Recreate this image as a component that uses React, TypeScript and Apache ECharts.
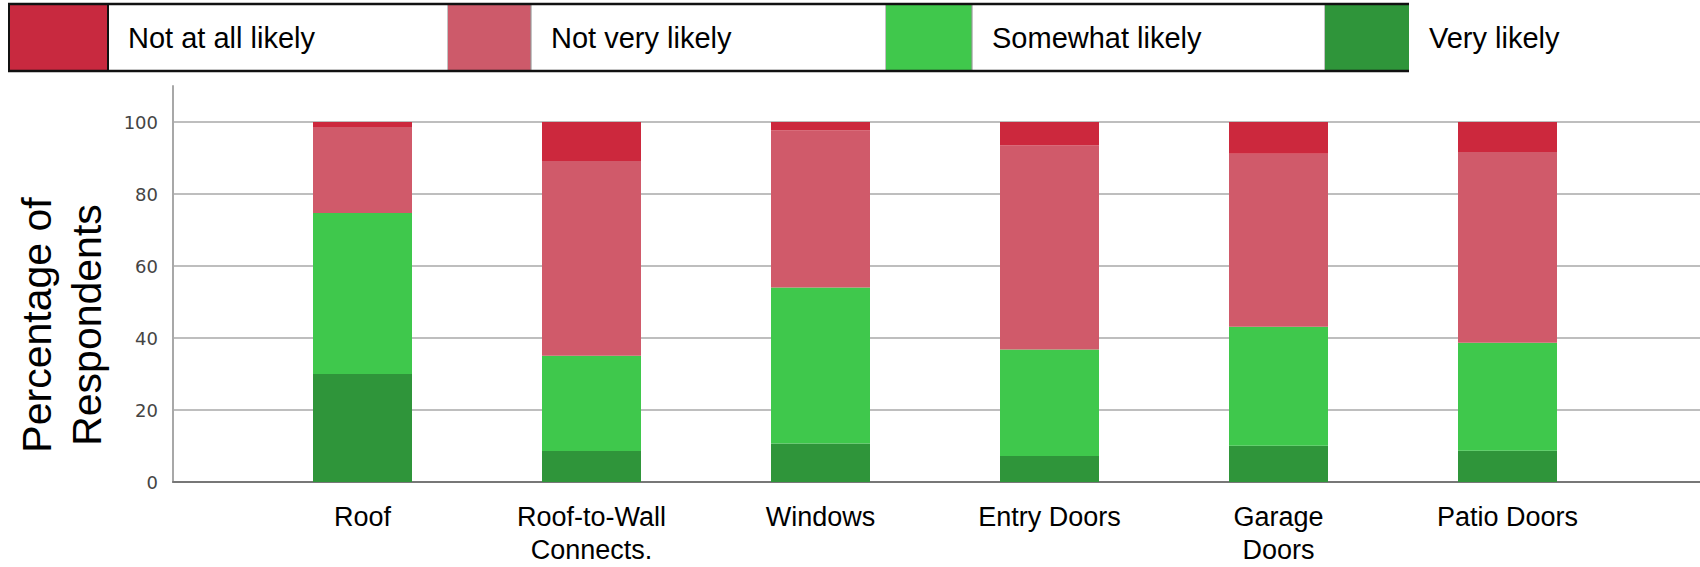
import React, { useEffect, useRef } from "react";
import * as echarts from "echarts";

// Survey categories (x axis)
const categories = [
  "Roof",
  "Roof-to-Wall\nConnects.",
  "Windows",
  "Entry Doors",
  "Garage\nDoors",
  "Patio Doors",
];

// Response shares in percent, stacked bottom to top
const veryLikely = [30, 8.6, 10.7, 7.2, 10.1, 8.7];
const somewhatLikely = [44.7, 26.5, 43.3, 29.6, 33, 30];
const notVeryLikely = [23.9, 54.1, 43.7, 56.7, 48.1, 53];
const notAtAllLikely = [1.4, 10.8, 2.3, 6.5, 8.8, 8.3];

// Legend order (left to right) and matching colours
const legendNames = ["Not at all likely", "Not very likely", "Somewhat likely", "Very likely"];
const legendColors = ["#C8293F", "#CD5A6A", "#40C84C", "#2F953A"];

const yTicks = [0, 20, 40, 60, 80, 100];

const FONT = '"Liberation Sans", Arial, sans-serif';

function buildLegend(): any[] {
  // swatch / text-cell boundaries of the legend strip
  const edges = [9, 108, 448, 531, 886, 972, 1325, 1409];
  const top = 4;
  const bottom = 71;
  const els: any[] = [];
  for (let i = 0; i < 4; i++) {
    const x0 = edges[i * 2];
    const x1 = edges[i * 2 + 1];
    els.push({
      type: "rect",
      shape: { x: x0, y: top, width: x1 - x0, height: bottom - top },
      style: { fill: legendColors[i] },
    });
    els.push({
      type: "text",
      x: x1 + 20,
      y: 38,
      style: {
        text: legendNames[i],
        font: `29px ${FONT}`,
        fill: "#000",
        align: "left",
        verticalAlign: "middle",
      },
    });
    if (i < 3) {
      // thin separators around each text cell
      [x1, edges[i * 2 + 2]].forEach((x) =>
        els.push({
          type: "line",
          shape: { x1: x, y1: top, x2: x, y2: bottom },
          style: { stroke: i === 0 && x === x1 ? "#111" : "#9a9a9a", lineWidth: i === 0 && x === x1 ? 2 : 1.2 },
        })
      );
    }
  }
  // frame: left edge plus top and bottom rules
  els.push({
    type: "line",
    shape: { x1: edges[0], y1: top, x2: edges[0], y2: bottom },
    style: { stroke: "#111", lineWidth: 2 },
  });
  els.push({
    type: "line",
    shape: { x1: edges[0] - 1, y1: top, x2: edges[7], y2: top },
    style: { stroke: "#111", lineWidth: 2.5 },
  });
  els.push({
    type: "line",
    shape: { x1: edges[0] - 1, y1: bottom, x2: edges[7], y2: bottom },
    style: { stroke: "#111", lineWidth: 2.5 },
  });
  return els;
}

export default function App() {
  const ref = useRef<HTMLDivElement>(null);

  useEffect(() => {
    document.body.style.margin = "0";
    if (!ref.current) return;
    const chart = echarts.init(ref.current, null, { renderer: "svg" });

    const seriesDefs = [
      { name: "Very likely", data: veryLikely, color: "#2F953A" },
      { name: "Somewhat likely", data: somewhatLikely, color: "#3FC84C" },
      { name: "Not very likely", data: notVeryLikely, color: "#D05A6A" },
      { name: "Not at all likely", data: notAtAllLikely, color: "#CC283D" },
    ];

    chart.setOption({
      animation: false,
      backgroundColor: "#fff",
      grid: [
        // frame grid: y axis, gridlines and baseline
        { left: 173, right: 0, top: 86, bottom: 85, containLabel: false, outerBoundsMode: "none" },
        // bar grid
        { left: 248, right: 78, top: 86, bottom: 85, containLabel: false, outerBoundsMode: "none" },
      ],
      xAxis: [
        {
          type: "value",
          gridIndex: 0,
          min: 0,
          max: 1,
          axisLine: { show: true, lineStyle: { color: "#777", width: 2 } },
          axisTick: { show: false },
          axisLabel: { show: false },
          splitLine: { show: false },
        },
        {
          type: "category",
          gridIndex: 1,
          data: categories,
          axisLine: { show: false },
          axisTick: { show: false },
          axisLabel: {
            margin: 18,
            fontFamily: FONT,
            fontSize: 27,
            lineHeight: 33,
            color: "#000",
            interval: 0,
          },
        },
      ],
      yAxis: [
        {
          type: "value",
          gridIndex: 0,
          min: 0,
          max: 110,
          interval: 20,
          axisLine: { show: true, lineStyle: { color: "#a8a8a8", width: 2 } },
          axisTick: { show: false },
          axisLabel: {
            margin: 15,
            fontFamily: '"DejaVu Sans", sans-serif',
            fontSize: 18,
            color: "#444",
            showMaxLabel: false,
            formatter: (v: number) => (yTicks.includes(v) ? String(v) : ""),
          },
          splitLine: {
            show: true,
            showMinLine: false,
            showMaxLine: false,
            lineStyle: { color: "#a9a9a9", width: 1.5 },
          },
        },
        {
          type: "value",
          gridIndex: 1,
          min: 0,
          max: 110,
          show: false,
          splitLine: { show: false },
        },
      ],
      graphic: [
        ...buildLegend(),
        {
          type: "text",
          x: 62,
          y: 325,
          rotation: Math.PI / 2,
          style: {
            text: "Percentage of\nRespondents",
            font: `41px ${FONT}`,
            lineHeight: 50,
            fill: "#000",
            align: "center",
            verticalAlign: "middle",
          },
        },
      ],
      series: seriesDefs.map((s) => ({
        type: "bar",
        name: s.name,
        stack: "total",
        xAxisIndex: 1,
        yAxisIndex: 1,
        barWidth: 99,
        data: s.data,
        itemStyle: { color: s.color },
      })),
    });

    return () => chart.dispose();
  }, []);

  return <div ref={ref} style={{ width: 1700, height: 567 }} />;
}
